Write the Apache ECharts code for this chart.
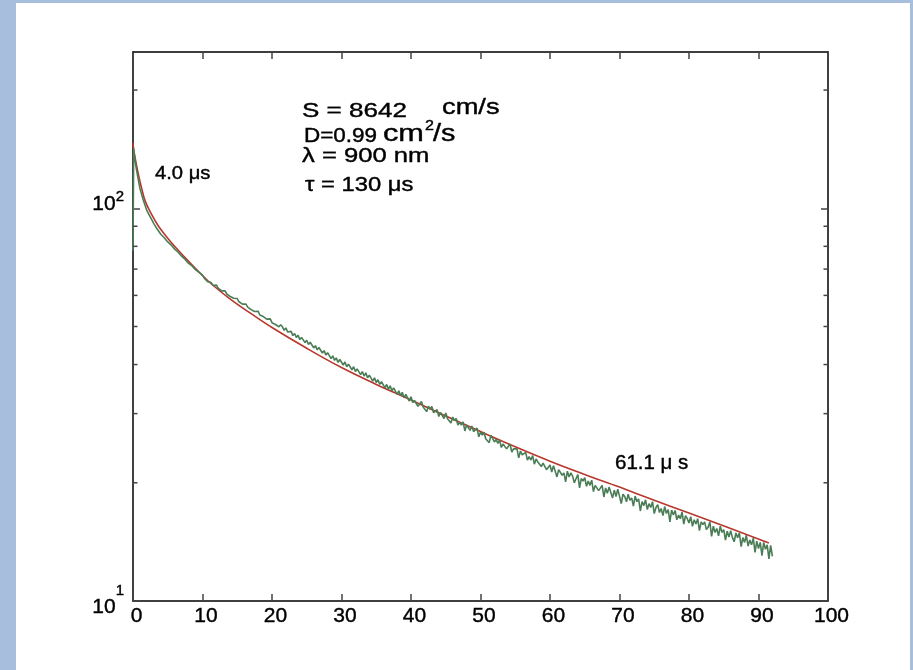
<!DOCTYPE html>
<html><head><meta charset="utf-8">
<script src="https://cdn.jsdelivr.net/npm/echarts@6/dist/echarts.min.js"></script>
<style>
html,body{margin:0;padding:0;width:913px;height:670px;background:#a7bfdc;overflow:hidden}
#c{position:absolute;left:16px;top:3px;width:894px;height:667px;background:#fff}
</style></head><body><div id="c"></div>
<script>
// measured decay (green, noisy): times in microseconds
const greenTime = [0,0.1,0.25,0.5,1,1.5,2,2.5,3,3.5,4,4.5,5,5.5,6,6.5,7,7.5,8,8.5,9,9.5,
10,10.25,10.5,10.75,11,11.25,11.5,11.75,12,12.25,12.5,12.75,13,13.25,13.5,13.75,14,14.25,14.5,14.75,
15,15.25,15.5,15.75,16,16.25,16.5,16.75,17,17.25,17.5,17.75,18,18.25,18.5,18.75,19,19.25,19.5,19.75,
20,20.25,20.5,20.75,21,21.25,21.5,21.75,22,22.25,22.5,22.75,23,23.25,23.5,23.75,24,24.25,24.5,24.75,
25,25.25,25.5,25.75,26,26.25,26.5,26.75,27,27.25,27.5,27.75,28,28.25,28.5,28.75,29,29.25,29.5,29.75,
30,30.25,30.5,30.75,31,31.25,31.5,31.75,32,32.25,32.5,32.75,33,33.25,33.5,33.75,34,34.25,34.5,34.75,
35,35.25,35.5,35.75,36,36.25,36.5,36.75,37,37.25,37.5,37.75,38,38.25,38.5,38.75,39,39.25,39.5,39.75,
40,40.25,40.5,40.75,41,41.25,41.5,41.75,42,42.25,42.5,42.75,43,43.25,43.5,43.75,44,44.25,44.5,44.75,
45,45.25,45.5,45.75,46,46.25,46.5,46.75,47,47.25,47.5,47.75,48,48.25,48.5,48.75,49,49.25,49.5,49.75,
50,50.25,50.5,50.75,51,51.25,51.5,51.75,52,52.25,52.5,52.75,53,53.25,53.5,53.75,54,54.25,54.5,54.75,
55,55.25,55.5,55.75,56,56.25,56.5,56.75,57,57.25,57.5,57.75,58,58.25,58.5,58.75,59,59.25,59.5,59.75,
60,60.25,60.5,60.75,61,61.25,61.5,61.75,62,62.25,62.5,62.75,63,63.25,63.5,63.75,64,64.25,64.5,64.75,
65,65.25,65.5,65.75,66,66.25,66.5,66.75,67,67.25,67.5,67.75,68,68.25,68.5,68.75,69,69.25,69.5,69.75,
70,70.25,70.5,70.75,71,71.25,71.5,71.75,72,72.25,72.5,72.75,73,73.25,73.5,73.75,74,74.25,74.5,74.75,
75,75.25,75.5,75.75,76,76.25,76.5,76.75,77,77.25,77.5,77.75,78,78.25,78.5,78.75,79,79.25,79.5,79.75,
80,80.25,80.5,80.75,81,81.25,81.5,81.75,82,82.25,82.5,82.75,83,83.25,83.5,83.75,84,84.25,84.5,84.75,
85,85.25,85.5,85.75,86,86.25,86.5,86.75,87,87.25,87.5,87.75,88,88.25,88.5,88.75,89,89.25,89.5,89.75,
90,90.25,90.5,90.75,91,91.25,91.5,91.75,92];
const greenValue = [78,142,134,125.5,112.2,104.6,98.6,94.9,91.4,88.4,85.9,84.1,82.1,80.6,78.7,77.3,75.5,74.1,72.4,71.3,69.8,68.7,
67.6,66.4,66.5,65.0,65.1,64.7,63.6,63.9,63.8,62.6,62.7,61.6,61.8,61.6,60.5,60.6,59.6,60.1,59.0,59.2,
58.9,57.8,58.1,57.0,57.5,57.0,56.0,56.4,55.2,55.8,54.6,54.9,54.7,53.5,53.9,53.0,53.4,52.2,52.7,52.3,
51.1,51.7,50.6,51.1,49.9,50.5,49.9,48.9,49.6,48.4,48.9,48.6,47.4,48.0,46.9,47.5,46.3,46.9,46.5,45.5,
46.1,45.0,45.6,45.2,44.1,44.7,43.6,44.2,43.8,42.8,43.4,42.3,42.9,42.4,41.4,42.1,41.0,41.6,40.5,41.2,
40.9,39.9,40.6,39.5,40.1,39.8,38.8,39.5,38.4,39.0,38.7,37.7,38.4,37.4,38.1,37.0,37.6,37.3,36.3,37.0,
36.0,36.6,35.6,36.2,35.9,34.9,35.6,34.6,35.3,34.3,34.9,34.5,33.6,34.3,33.3,34.0,32.9,33.6,33.3,32.3,
33.1,32.0,32.4,32.7,31.3,31.75,32.2,31.2,31.5,30.35,31.35,30.8,31.3,30.15,30.2,30.7,29.5,30.2,29.85,29.15,
30.1,29.1,29.35,28.4,29.4,28.8,29.15,28.05,28.5,28.05,28.6,27.1,28.05,27.8,27.2,27.9,27.0,27.1,27.55,26.2,
26.9,26.45,26.9,25.9,26.2,25.3,26.4,25.95,25.4,25.8,25.2,25.7,24.6,25.1,25.2,24.4,24.6,25.1,23.95,24.4,
24.15,24.4,23.15,24.1,23.55,23.8,23.9,22.85,23.3,22.85,23.45,22.3,23.0,22.6,22.8,22.0,22.45,22.65,21.6,21.85,
22.2,21.3,22.1,21.4,20.7,21.6,21.8,20.9,21.2,20.1,21.4,20.7,21.2,20.8,20.0,20.2,21.0,19.4,20.5,20.2,
20.6,19.6,20.2,19.7,20.3,19.0,19.7,19.9,19.1,19.3,19.7,18.4,19.4,18.8,19.5,18.9,18.3,19.15,18.45,19.25,
18.5,17.7,18.7,18.45,17.9,18.7,18.05,18.3,17.45,18.5,17.9,18.2,16.95,17.9,17.5,18.1,17.1,17.7,17.3,17.9,
16.7,17.3,17.6,16.8,17.2,16.5,17.4,16.7,17.1,15.9,17.05,16.55,17.0,16.1,16.55,16.2,16.85,15.7,16.5,16.2,
15.8,16.4,15.5,16.1,15.7,16.2,15.1,15.9,15.65,15.9,15.2,15.4,15.9,14.6,15.5,14.95,15.3,14.65,15.5,14.95,
15.2,14.3,15.05,14.55,15.1,14.5,14.15,14.9,14.5,14.9,13.75,14.5,14.1,14.7,13.8,14.3,13.9,14.45,13.3,14.2,
13.6,14.1,13.05,14.1,13.55,13.9,12.8,13.85,13.0];
// fitted model (red)
const fitTime  = [0,0.1,0.29,0.5,0.77,1.2,1.73,2.6,3.65,4.8,6.05,8.45,10.85,14,17,20,25,30,35,40,45,50,55,60,65,70,75,80,86,91.5];
const fitValue = [147,141,134.9,128.8,122.1,113.3,104.6,97.0,90.1,84.8,79.8,71.9,65.2,58.7,53.9,49.7,44.0,39.3,35.6,32.5,29.6,27.0,24.7,22.7,21.0,19.5,18.05,16.75,15.3,14.05];
// axes
const xTickLabels = ['0','10','20','30','40','50','60','70','80','90','100'];
const yMajorTicks = [10, 100];
const yMinorTicks = [20,30,40,50,60,70,80,90,200];

const FONT = 'Liberation Sans, Arial, Helvetica, sans-serif';
const chart = echarts.init(document.getElementById('c'), null, {renderer:'canvas'});

const axisLineStyle = {color:'#000', width:1.5};
const tickStyle = {color:'#444', width:1.5};
const heavy = {textBorderColor:'#000', textBorderWidth:0.4};

function txt(text, x, y, size, sx){
  return {type:'text', x:x, y:y, scaleX:sx, z:100,
    style:{text:text, x:0, y:0, font: size+'px '+FONT, fill:'#000', align:'left', verticalAlign:'middle',
      stroke:'#000', lineWidth:0.4}};
}

const option = {
  animation:false,
  backgroundColor:'#fff',
  grid:{left:117, right:82, top:49, bottom:69, containLabel:false},
  xAxis:[{
    type:'value', min:0, max:100, interval:10, position:'bottom',
    axisLine:{show:true, onZero:false, lineStyle:axisLineStyle},
    axisTick:{show:true, inside:true, length:7, lineStyle:tickStyle},
    splitLine:{show:false},
    axisLabel:Object.assign({margin:5, color:'#000', fontSize:21, fontFamily:FONT, padding:[0,0,0,7],
      formatter:(v)=>xTickLabels[Math.round(v/10)]}, heavy)
  },{
    type:'value', min:0, max:100, interval:10, position:'top',
    axisLine:{show:true, onZero:false, lineStyle:axisLineStyle},
    axisTick:{show:true, inside:true, length:7, lineStyle:tickStyle},
    splitLine:{show:false}, axisLabel:{show:false}
  }],
  yAxis:[{
    type:'log', logBase:10, min:10, max:250, position:'left',
    axisLine:{show:true, onZero:false, lineStyle:axisLineStyle},
    axisTick:{show:true, inside:true, length:7, lineStyle:tickStyle, customValues:yMajorTicks},
    splitLine:{show:false},
    axisLabel:{margin:9, color:'#000', fontFamily:FONT, customValues:yMajorTicks,
      formatter:(v)=>{
        if (Math.abs(v-yMajorTicks[0])<1e-6) return '{a|10}{b|1}';
        if (Math.abs(v-yMajorTicks[1])<1e-6) return '{c|10}{d|2}';
        return '';
      },
      rich:{
        a:Object.assign({fontSize:21, fontFamily:FONT, color:'#000', padding:[12,0,0,0]}, heavy),
        b:Object.assign({fontSize:15, fontFamily:FONT, color:'#000', padding:[0,0,20,0]}, heavy),
        c:Object.assign({fontSize:21, fontFamily:FONT, color:'#000', padding:[0,0,8,0]}, heavy),
        d:Object.assign({fontSize:15, fontFamily:FONT, color:'#000', padding:[0,0,22,0]}, heavy)
      }
    }
  },{
    type:'log', logBase:10, min:10, max:250, position:'right',
    axisLine:{show:true, onZero:false, lineStyle:axisLineStyle},
    axisTick:{show:true, inside:true, length:7, lineStyle:tickStyle, customValues:yMajorTicks},
    splitLine:{show:false}, axisLabel:{show:false}
  }],
  series:[
    {
      type:'line', name:'fit', xAxisIndex:0, yAxisIndex:0,
      data: fitTime.map((t,i)=>[t, fitValue[i]]),
      showSymbol:false, smooth:0.4, z:2,
      lineStyle:{color:'#b8372c', width:1.6}
    },
    {
      type:'line', name:'data', xAxisIndex:0, yAxisIndex:0,
      data: greenTime.map((t,i)=>[t, greenValue[i]]),
      showSymbol:false, z:3,
      lineStyle:{color:'#4a7d56', width:1.6}
    },
    {
      type:'custom', name:'minorTicks', xAxisIndex:0, yAxisIndex:0, z:5, silent:true, clip:false,
      data: yMinorTicks.map(v=>[0, v]),
      renderItem:(params, api)=>{
        const cs = params.coordSys;
        const y = api.coord([0, api.value(1)])[1];
        const L = cs.x, R = cs.x + cs.width;
        return {type:'group', children:[
          {type:'line', shape:{x1:L, y1:y, x2:L+4.5, y2:y}, style:{stroke:'#444', lineWidth:1.5}},
          {type:'line', shape:{x1:R-4.5, y1:y, x2:R, y2:y}, style:{stroke:'#444', lineWidth:1.5}}
        ]};
      }
    }
  ],
  graphic:[
    txt('S = 8642', 286, 108.5, 21, 1.24),
    txt('cm/s', 426, 105, 22, 1.24),
    txt('D=0.99', 288, 133.3, 21, 1.07),
    txt('cm', 367, 131.7, 24, 1.28),
    txt('2', 409, 123.5, 14, 1.15),
    txt('/s', 417, 131.7, 23, 1.25),
    txt('λ = 900 nm', 286, 153, 21, 1.22),
    txt('τ = 130 μs', 289, 183, 19.5, 1.22),
    txt('4.0 μs', 139, 171, 18, 1.12),
    txt('61.1 μ s', 599, 460, 20.5, 1.0)
  ]
};
chart.setOption(option);
</script></body></html>
